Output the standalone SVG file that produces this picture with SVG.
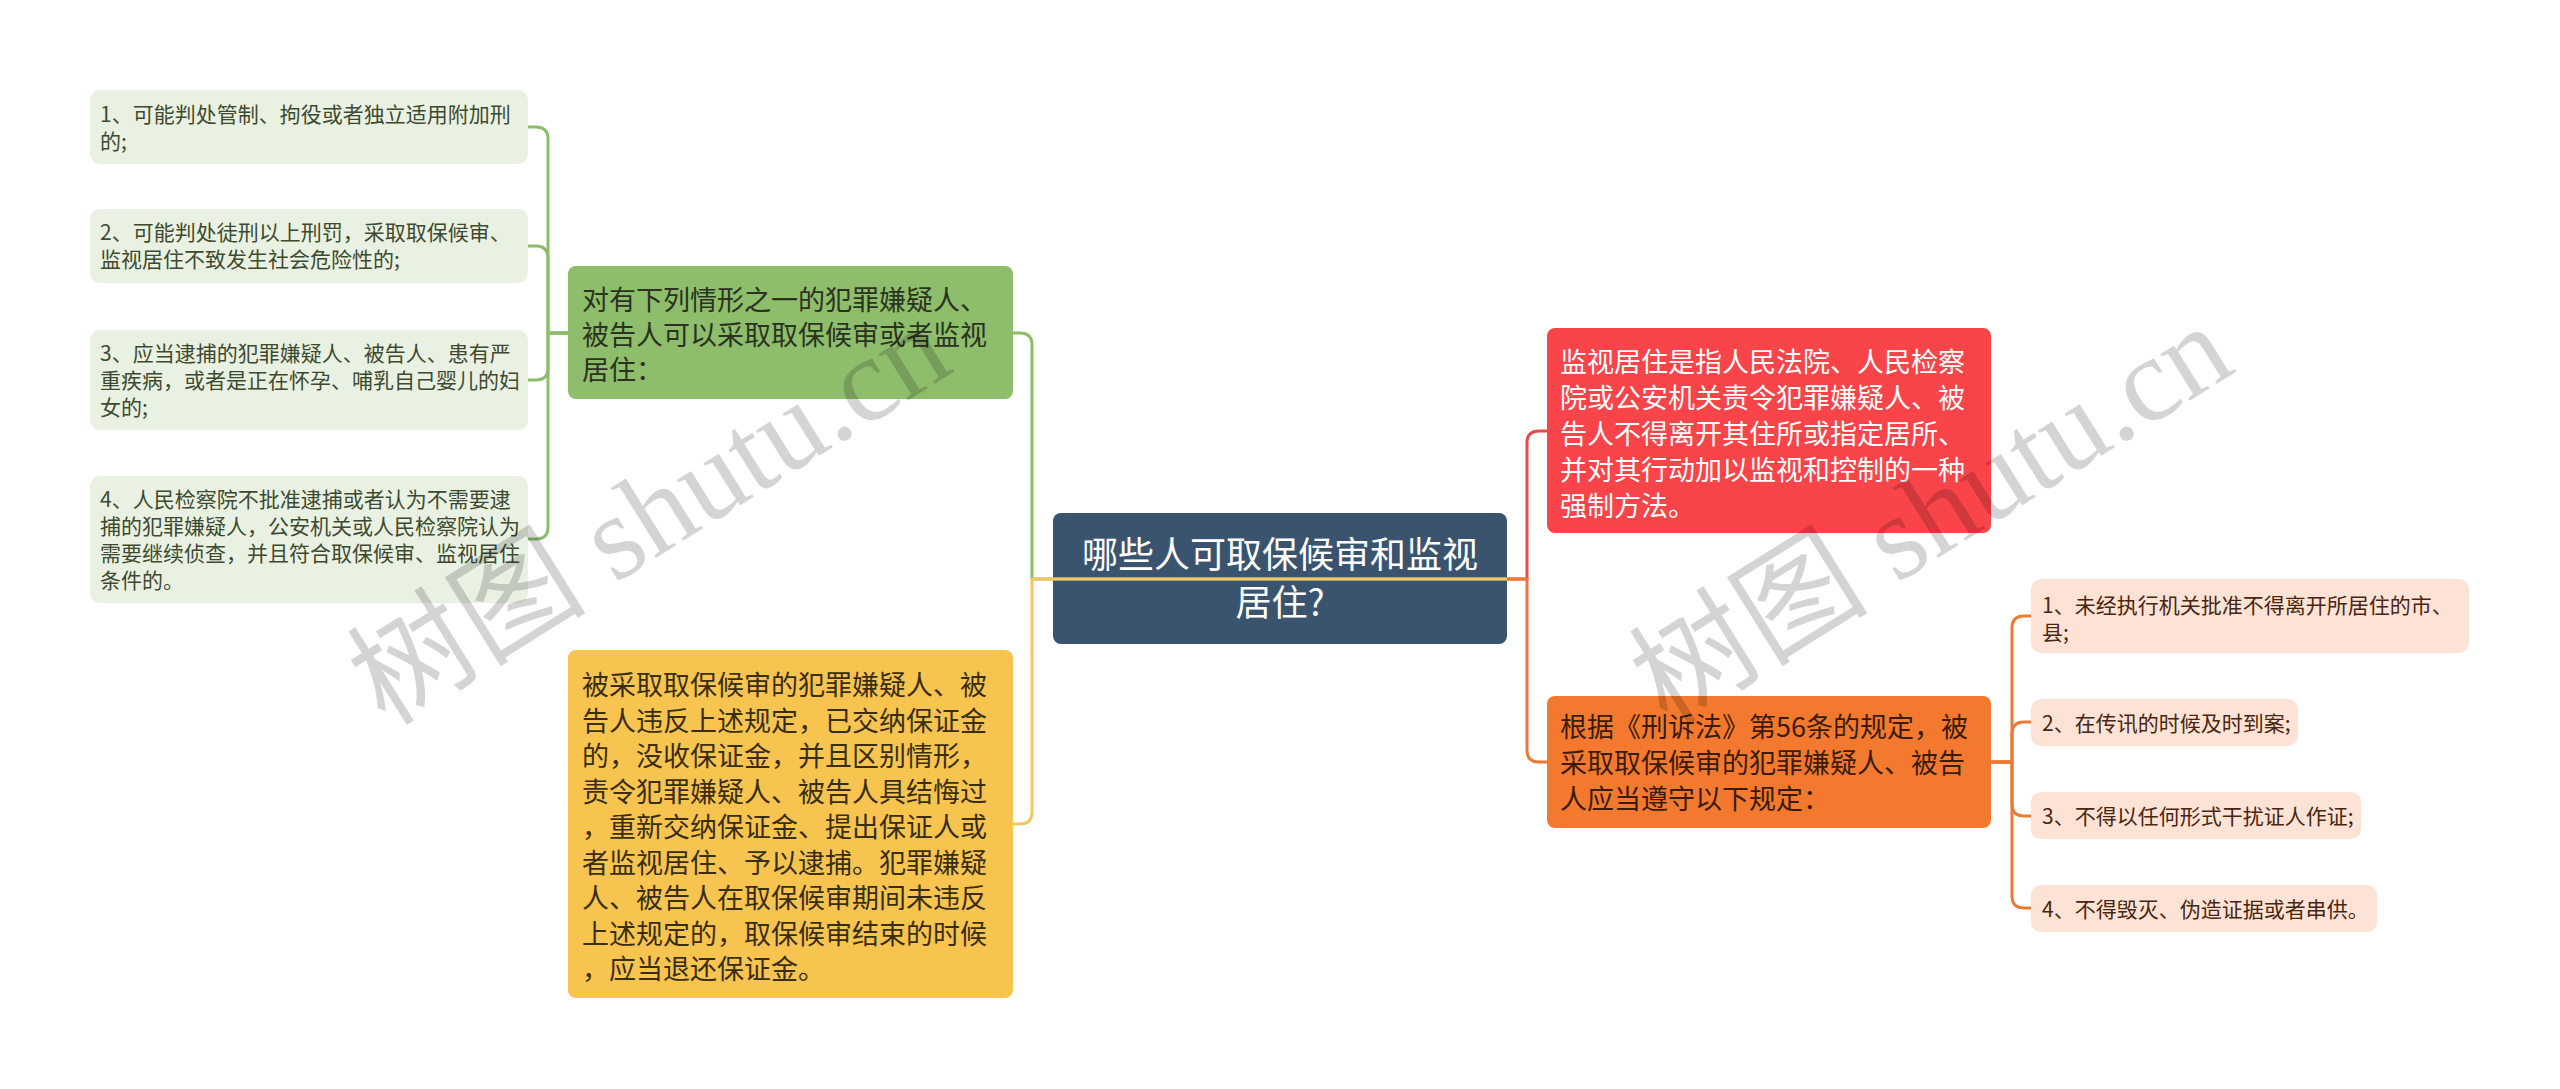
<svg xmlns="http://www.w3.org/2000/svg" width="2560" height="1089" viewBox="0 0 2560 1089">
<style>
text{font-family:"Noto Sans CJK SC","Noto Sans",sans-serif}
.root{fill:#3a5470}
.rt{fill:#ffffff;font-size:36px;text-anchor:middle}
.gp{fill:#8ebd6b}
.gt{fill:#2b3320;font-size:27px}
.gl{fill:#e9f1e2}
.glt{fill:#3e4a30;font-size:21px}
.yp{fill:#f7c44f}
.yt{fill:#3a2e10;font-size:27px}
.rp{fill:#f94449}
.rpt{fill:#ffffff;font-size:27px}
.op{fill:#f2792d}
.ot{fill:#3a1c08;font-size:27px}
.ol{fill:#fce3d5}
.olt{fill:#4a2510;font-size:21px}
.c{fill:none;stroke-width:3;stroke-linejoin:round}
.wm{font-family:"Liberation Serif","Noto Sans CJK SC",serif;font-size:120px;fill:#000;fill-opacity:0.17;text-anchor:middle}
</style>

<g id="node-root">
<rect class="root" x="1053" y="513" width="454" height="131" rx="8"/>
<text class="rt" x="1280" y="568">哪些人可取保候审和监视</text>
<text class="rt" x="1280" y="616">居住?</text>
</g>

<g id="node-green">
<rect class="gp" x="568" y="266" width="445" height="133" rx="8"/>
<text class="gt" x="582" y="310">对有下列情形之一的犯罪嫌疑人、</text>
<text class="gt" x="582" y="345">被告人可以采取取保候审或者监视</text>
<text class="gt" x="582" y="380">居住：</text>
</g>

<g id="node-gl1">
<rect class="gl" x="90" y="90" width="438" height="74" rx="10"/>
<text class="glt" x="100" y="121.5">1、可能判处管制、拘役或者独立适用附加刑</text>
<text class="glt" x="100" y="148.5">的;</text>
</g>
<g id="node-gl2">
<rect class="gl" x="90" y="209" width="438" height="74" rx="10"/>
<text class="glt" x="100" y="240">2、可能判处徒刑以上刑罚，采取取保候审、</text>
<text class="glt" x="100" y="267">监视居住不致发生社会危险性的;</text>
</g>
<g id="node-gl3">
<rect class="gl" x="90" y="330" width="438" height="100" rx="10"/>
<text class="glt" x="100" y="360.5">3、应当逮捕的犯罪嫌疑人、被告人、患有严</text>
<text class="glt" x="100" y="387.5">重疾病，或者是正在怀孕、哺乳自己婴儿的妇</text>
<text class="glt" x="100" y="414.5">女的;</text>
</g>
<g id="node-gl4">
<rect class="gl" x="90" y="476" width="438" height="127" rx="10"/>
<text class="glt" x="100" y="506.5">4、人民检察院不批准逮捕或者认为不需要逮</text>
<text class="glt" x="100" y="533.5">捕的犯罪嫌疑人，公安机关或人民检察院认为</text>
<text class="glt" x="100" y="560.5">需要继续侦查，并且符合取保候审、监视居住</text>
<text class="glt" x="100" y="587.5">条件的。</text>
</g>

<g id="node-yellow">
<rect class="yp" x="568" y="650" width="445" height="348" rx="8"/>
<text class="yt" x="582" y="695">被采取取保候审的犯罪嫌疑人、被</text>
<text class="yt" x="582" y="730.5">告人违反上述规定，已交纳保证金</text>
<text class="yt" x="582" y="766">的，没收保证金，并且区别情形，</text>
<text class="yt" x="582" y="801.5">责令犯罪嫌疑人、被告人具结悔过</text>
<text class="yt" x="582" y="837">，重新交纳保证金、提出保证人或</text>
<text class="yt" x="582" y="872.5">者监视居住、予以逮捕。犯罪嫌疑</text>
<text class="yt" x="582" y="908">人、被告人在取保候审期间未违反</text>
<text class="yt" x="582" y="943.5">上述规定的，取保候审结束的时候</text>
<text class="yt" x="582" y="979">，应当退还保证金。</text>
</g>

<g id="node-red">
<rect class="rp" x="1547" y="328" width="444" height="205" rx="8"/>
<text class="rpt" x="1560" y="371.5">监视居住是指人民法院、人民检察</text>
<text class="rpt" x="1560" y="407.5">院或公安机关责令犯罪嫌疑人、被</text>
<text class="rpt" x="1560" y="443.5">告人不得离开其住所或指定居所、</text>
<text class="rpt" x="1560" y="479.5">并对其行动加以监视和控制的一种</text>
<text class="rpt" x="1560" y="515.5">强制方法。</text>
</g>

<g id="node-orange">
<rect class="op" x="1547" y="696" width="444" height="132" rx="8"/>
<text class="ot" x="1560" y="737">根据《刑诉法》第56条的规定，被</text>
<text class="ot" x="1560" y="773">采取取保候审的犯罪嫌疑人、被告</text>
<text class="ot" x="1560" y="809">人应当遵守以下规定：</text>
</g>

<g id="node-ol1">
<rect class="ol" x="2031" y="579" width="438" height="74" rx="10"/>
<text class="olt" x="2042" y="612.5">1、未经执行机关批准不得离开所居住的市、</text>
<text class="olt" x="2042" y="639.5">县;</text>
</g>
<g id="node-ol2">
<rect class="ol" x="2031" y="699" width="267" height="47" rx="10"/>
<text class="olt" x="2042" y="731">2、在传讯的时候及时到案;</text>
</g>
<g id="node-ol3">
<rect class="ol" x="2031" y="792" width="330" height="47" rx="10"/>
<text class="olt" x="2042" y="824">3、不得以任何形式干扰证人作证;</text>
</g>
<g id="node-ol4">
<rect class="ol" x="2031" y="885" width="346" height="47" rx="10"/>
<text class="olt" x="2042" y="917">4、不得毁灭、伪造证据或者串供。</text>
</g>

<g id="connectors">
<path class="c" stroke="#8cbd6a" d="M1507 579 H1032 V345 Q1032 333 1020 333 H1013"/>
<path class="c" stroke="#f3c563" d="M1507 579 H1032 V812 Q1032 824 1020 824 H1013"/>
<path class="c" stroke="#e84a4c" d="M1507 579 H1527 V443 Q1527 431 1539 431 H1547"/>
<path class="c" stroke="#eb7a35" d="M1507 579 H1527 V750 Q1527 762 1539 762 H1547"/>
<path class="c" stroke="#8cbd6a" d="M568 333 H548 V139 Q548 127 536 127 H528"/>
<path class="c" stroke="#8cbd6a" d="M568 333 H548 V258 Q548 246 536 246 H528"/>
<path class="c" stroke="#8cbd6a" d="M568 333 H548 V368 Q548 380 536 380 H528"/>
<path class="c" stroke="#8cbd6a" d="M568 333 H548 V527 Q548 539 536 539 H528"/>
<path class="c" stroke="#eb7a35" d="M1991 762 H2012 V628 Q2012 616 2024 616 H2031"/>
<path class="c" stroke="#eb7a35" d="M1991 762 H2012 V734 Q2012 722 2024 722 H2031"/>
<path class="c" stroke="#eb7a35" d="M1991 762 H2012 V804 Q2012 816 2024 816 H2031"/>
<path class="c" stroke="#eb7a35" d="M1991 762 H2012 V896 Q2012 908 2024 908 H2031"/>
</g>

<g id="watermarks">
<text class="wm" x="649" y="555" transform="rotate(-32 649 514)">树图 shutu.cn</text>
<text class="wm" x="1931" y="555" transform="rotate(-32 1931 514)">树图 shutu.cn</text>
</g>
</svg>
